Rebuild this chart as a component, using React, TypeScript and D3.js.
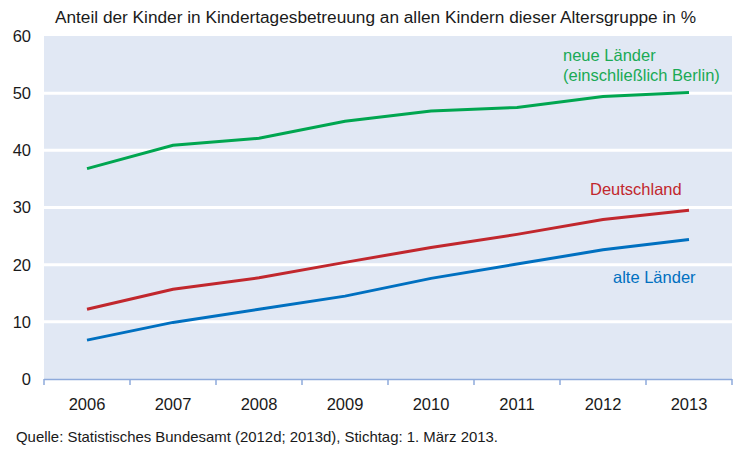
import { useEffect, useRef } from 'react';
import * as d3 from 'd3';

const years = ['2006', '2007', '2008', '2009', '2010', '2011', '2012', '2013'];
const neueLaender = [36.8, 40.9, 42.1, 45.1, 46.9, 47.5, 49.4, 50.1];
const deutschland = [12.2, 15.7, 17.7, 20.4, 23.0, 25.3, 27.9, 29.5];
const alteLaender = [6.8, 9.9, 12.2, 14.5, 17.6, 20.1, 22.6, 24.4];
const yTicks = [0, 10, 20, 30, 40, 50, 60];

const WIDTH = 734;
const HEIGHT = 450;
const MARGIN = { top: 36, right: 2, bottom: 71, left: 44 };
const FONT = '"Liberation Sans", Arial, sans-serif';

export default function App() {
  const svgRef = useRef<SVGSVGElement>(null);

  useEffect(() => {
    if (!svgRef.current) return;
    const svg = d3.select(svgRef.current);
    svg.selectAll('*').remove();

    const plotW = WIDTH - MARGIN.left - MARGIN.right;
    const plotH = HEIGHT - MARGIN.top - MARGIN.bottom;

    const x = d3.scaleBand().domain(years).range([0, plotW]);
    const y = d3.scaleLinear().domain([0, 60]).range([plotH, 0]);

    // Title
    svg
      .append('text')
      .attr('x', 55)
      .attr('y', 23)
      .attr('font-size', 16)
      .attr('fill', '#1a1a1a')
      .attr('textLength', 641)
      .attr('lengthAdjust', 'spacingAndGlyphs')
      .text('Anteil der Kinder in Kindertagesbetreuung an allen Kindern dieser Altersgruppe in %');

    const g = svg
      .append('g')
      .attr('transform', `translate(${MARGIN.left},${MARGIN.top})`);

    // Plot background
    g.append('rect')
      .attr('x', 0)
      .attr('y', 0)
      .attr('width', plotW)
      .attr('height', plotH)
      .attr('fill', '#e1e8f4');

    // Gridlines
    g.selectAll('.grid')
      .data(yTicks.filter((t) => t > 0 && t < 60))
      .enter()
      .append('line')
      .attr('x1', 0)
      .attr('x2', plotW)
      .attr('y1', (d) => y(d))
      .attr('y2', (d) => y(d))
      .attr('stroke', '#ffffff')
      .attr('stroke-width', 3);

    // Y tick labels
    g.selectAll('.ylab')
      .data(yTicks)
      .enter()
      .append('text')
      .attr('x', -13)
      .attr('y', (d) => y(d))
      .attr('dy', '0.36em')
      .attr('text-anchor', 'end')
      .attr('font-size', 16.5)
      .attr('fill', '#1a1a1a')
      .text((d) => d);

    // X axis line with ticks at band boundaries
    g.append('line')
      .attr('x1', 0)
      .attr('x2', plotW)
      .attr('y1', plotH + 0.5)
      .attr('y2', plotH + 0.5)
      .attr('stroke', '#8eaadb')
      .attr('stroke-width', 1.5);

    const boundaries = years.map((yr) => x(yr)!).concat([plotW]);
    g.selectAll('.xtick')
      .data(boundaries)
      .enter()
      .append('line')
      .attr('x1', (d) => d)
      .attr('x2', (d) => d)
      .attr('y1', plotH)
      .attr('y2', plotH + 6)
      .attr('stroke', '#8eaadb')
      .attr('stroke-width', 1.5);

    g.selectAll('.xlab')
      .data(years)
      .enter()
      .append('text')
      .attr('x', (d) => x(d)! + x.bandwidth() / 2)
      .attr('y', plotH + 25)
      .attr('dy', '0.36em')
      .attr('text-anchor', 'middle')
      .attr('font-size', 16.5)
      .attr('fill', '#1a1a1a')
      .text((d) => d);

    // Lines
    const line = d3
      .line<number>()
      .x((_, i) => x(years[i])! + x.bandwidth() / 2)
      .y((d) => y(d));

    const series = [
      { values: neueLaender, color: '#00a650' },
      { values: deutschland, color: '#c1272d' },
      { values: alteLaender, color: '#0070c0' },
    ];

    series.forEach((s) => {
      g.append('path')
        .datum(s.values)
        .attr('d', line)
        .attr('fill', 'none')
        .attr('stroke', s.color)
        .attr('stroke-width', 3);
    });

    // Series labels
    const labels = [
      { text: 'neue Länder', x: 563, y: 55, color: '#1aaa55' },
      { text: '(einschließlich Berlin)', x: 563, y: 75, color: '#1aaa55' },
      { text: 'Deutschland', x: 590, y: 189, color: '#c1272d' },
      { text: 'alte Länder', x: 613, y: 277, color: '#0070c0' },
    ];
    labels.forEach((l) => {
      svg
        .append('text')
        .attr('x', l.x)
        .attr('y', l.y)
        .attr('dy', '0.36em')
        .attr('font-size', 16.5)
        .attr('fill', l.color)
        .text(l.text);
    });

    // Source
    svg
      .append('text')
      .attr('x', 16)
      .attr('y', 437)
      .attr('dy', '0.36em')
      .attr('font-size', 14.5)
      .attr('fill', '#1a1a1a')
      .attr('textLength', 482)
      .attr('lengthAdjust', 'spacingAndGlyphs')
      .text('Quelle: Statistisches Bundesamt (2012d; 2013d), Stichtag: 1. März 2013.');
  }, []);

  return (
    <svg
      ref={svgRef}
      width={WIDTH}
      height={HEIGHT}
      style={{ position: 'absolute', left: 0, top: 0, fontFamily: FONT, background: '#ffffff' }}
    />
  );
}
